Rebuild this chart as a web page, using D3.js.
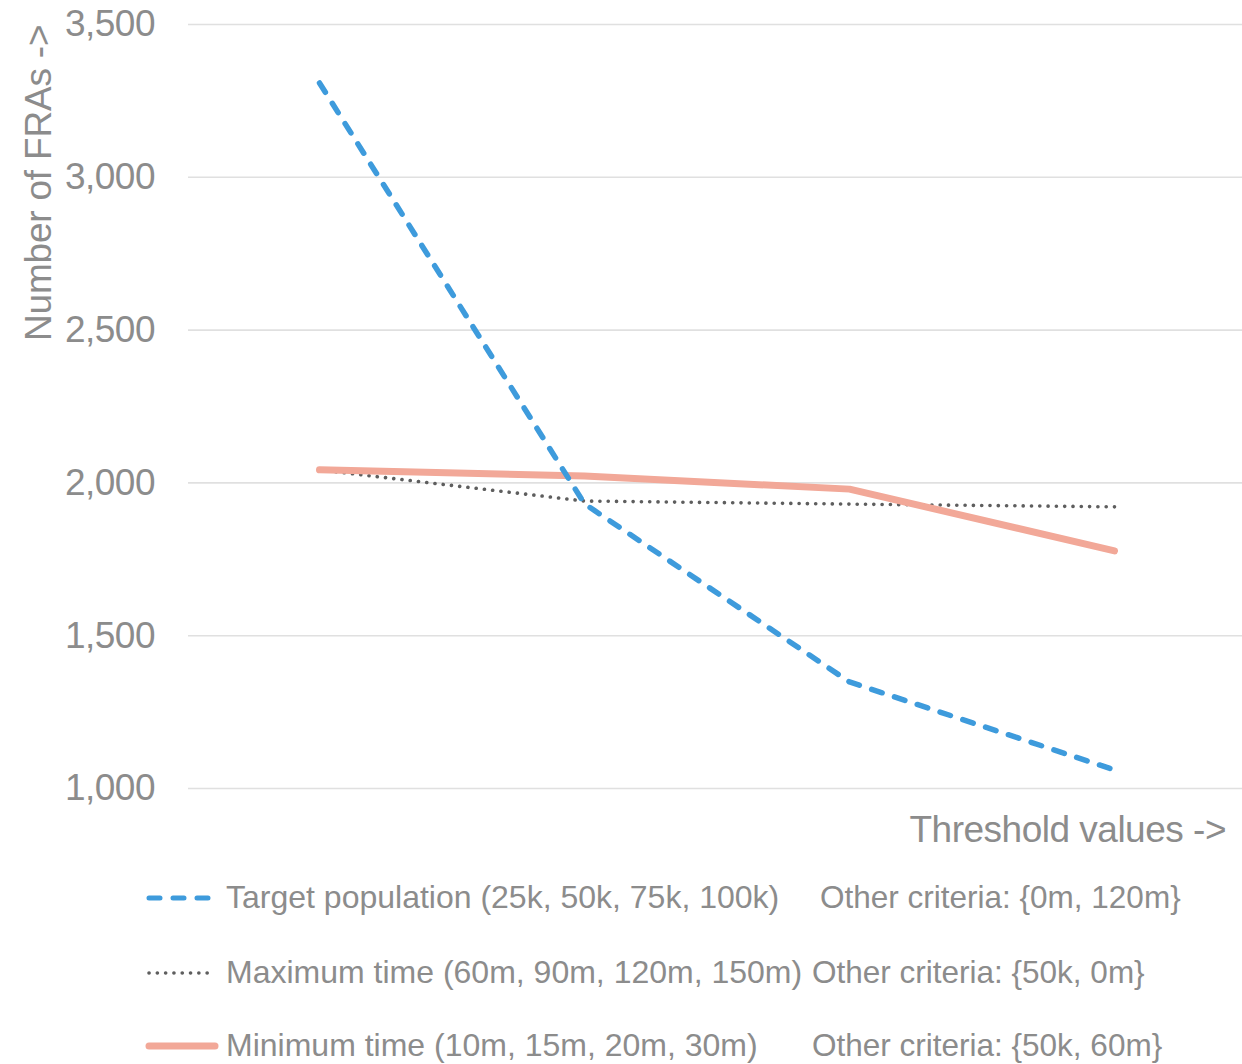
<!DOCTYPE html>
<html>
<head>
<meta charset="utf-8">
<script src="https://cdn.jsdelivr.net/npm/d3@7"></script>
<style>
  html, body { margin: 0; padding: 0; background: #fff; }
  svg { display: block; font-family: "Liberation Sans", Arial, Helvetica, sans-serif; }
</style>
</head>
<body>
<svg id="chart" width="1242" height="1064"></svg>
<script>
// Threshold steps along the x axis (four settings per criterion)
const thresholdSteps = ["1", "2", "3", "4"];

// Number of FRAs for each criterion as its threshold is raised
const targetPopulation = [3307, 1930, 1347, 1059];
const maximumTime      = [2041, 1939, 1929, 1920];
const minimumTime      = [2041, 2021, 1978, 1776];

// Y axis tick values
const yTicks = [1000, 1500, 2000, 2500, 3000, 3500];

// Legend labels
const seriesNames = [
  "Target population (25k, 50k, 75k, 100k)",
  "Maximum time (60m, 90m, 120m, 150m)",
  "Minimum time (10m, 15m, 20m, 30m)"
];
const seriesCriteria = [
  "Other criteria: {0m, 120m}",
  "Other criteria: {50k, 0m}",
  "Other criteria: {50k, 60m}"
];

const svg = d3.select("#chart");
const textGrey = "#8c8c8c";

const x = d3.scalePoint()
  .domain(thresholdSteps)
  .range([187, 1247])
  .padding(0.5);

const y = d3.scaleLinear()
  .domain([1000, 3500])
  .range([788, 24]);

// Horizontal gridlines with value labels
const yAxis = d3.axisLeft(y)
  .tickValues(yTicks)
  .tickSize(-(1242 - 188))
  .tickPadding(33)
  .tickFormat(d3.format(","));

const gAxis = svg.append("g")
  .attr("transform", "translate(188,0)")
  .call(yAxis);
gAxis.select(".domain").remove();
gAxis.selectAll(".tick line")
  .attr("stroke", "#e0e0e0")
  .attr("stroke-width", 1.6);
gAxis.selectAll(".tick text")
  .attr("fill", textGrey)
  .attr("font-size", 37)
  .attr("letter-spacing", "-0.5px")
  .attr("font-family", "'Liberation Sans', Arial, sans-serif");

// Axis titles
svg.append("text")
  .attr("transform", "translate(51,341) rotate(-90)")
  .attr("text-anchor", "start")
  .attr("fill", textGrey)
  .attr("font-size", 37)
  .attr("letter-spacing", "-0.2px")
  .text("Number of FRAs ->");

svg.append("text")
  .attr("x", 1226)
  .attr("y", 842)
  .attr("text-anchor", "end")
  .attr("fill", textGrey)
  .attr("font-size", 37)
  .attr("letter-spacing", "-0.5px")
  .text("Threshold values ->");

// Series styles
const series = [
  { values: targetPopulation, color: "#3e9bdc", width: 5.5, dash: "11 13", cap: "round" },
  { values: maximumTime,      color: "#5e5e5e", width: 3.6, dash: "0.1 8.2", cap: "round" },
  { values: minimumTime,      color: "#f2a898", width: 7, dash: null, cap: "round" }
];

const line = d3.line()
  .x((d, i) => x(thresholdSteps[i]))
  .y(d => y(d));

const drawOrder = [1, 2, 0];
drawOrder.forEach(k => {
  const s = series[k];
  svg.append("path")
    .datum(s.values)
    .attr("d", line)
    .attr("fill", "none")
    .attr("stroke", s.color)
    .attr("stroke-width", s.width)
    .attr("stroke-linecap", s.cap)
    .attr("stroke-linejoin", "round")
    .attr("stroke-dasharray", s.dash);
});

// Legend
const legendRowsY = [898, 973, 1046];
const sampleEnds = [212, 215, 218];
const criteriaX = [820, 812, 812];

series.forEach((s, i) => {
  const g = svg.append("g");
  g.append("line")
    .attr("x1", 149).attr("x2", sampleEnds[i] - (s.dash ? 0 : 3))
    .attr("y1", legendRowsY[i]).attr("y2", legendRowsY[i])
    .attr("stroke", s.color)
    .attr("stroke-width", s.dash ? Math.min(s.width, 5) : s.width)
    .attr("stroke-linecap", s.cap)
    .attr("stroke-dasharray", s.dash);
  g.append("text")
    .attr("x", 226)
    .attr("y", legendRowsY[i] + 10)
    .attr("fill", textGrey)
    .attr("font-size", 32)
    .text(seriesNames[i]);
  g.append("text")
    .attr("x", criteriaX[i])
    .attr("y", legendRowsY[i] + 10)
    .attr("fill", textGrey)
    .attr("font-size", 31.5)
    .text(seriesCriteria[i]);
});
</script>
</body>
</html>
